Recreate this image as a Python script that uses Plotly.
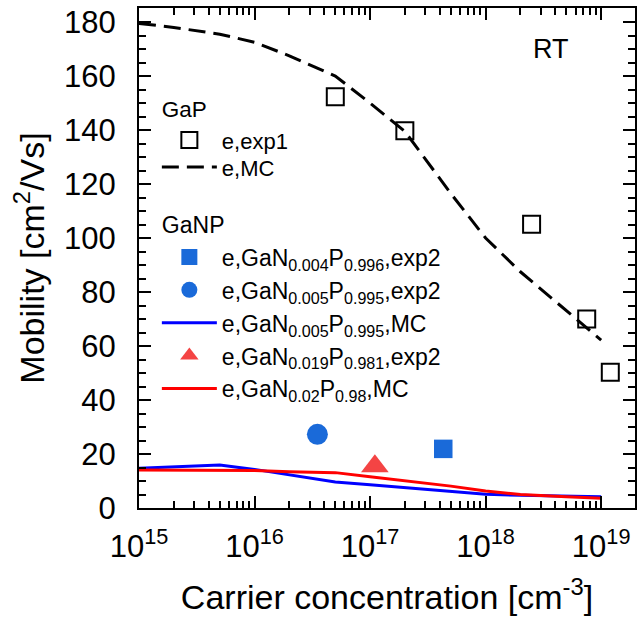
import plotly.graph_objects as go

# ---- data ----
gap_exp_x = [5.0e16, 2.0e17, 2.5e18, 7.5e18, 1.2e19]
gap_exp_y = [152.3, 139.7, 105.1, 70.0, 50.3]

mc_x = [1e15, 2e15, 5e15, 1e16, 2e16, 5e16, 1e17, 2e17, 5e17, 1e18, 2e18, 5e18, 1e19]
gap_mc_y = [179.5, 178.0, 175.5, 172.5, 167.5, 160.0, 150.0, 139.5, 116.5, 100.0, 87.5, 73.3, 62.2]
ganp005_mc_y = [14.7, 15.2, 15.9, 14.3, 12.2, 9.6, 8.6, 7.6, 6.2, 5.1, 4.7, 4.4, 4.2]
ganp02_mc_y = [14.1, 14.1, 14.0, 13.9, 13.4, 13.1, 11.6, 10.1, 8.1, 6.3, 5.0, 4.2, 3.6]

ganp004_exp_x = [4.3e17]
ganp004_exp_y = [21.9]
ganp005_exp_x = [3.5e16]
ganp005_exp_y = [27.3]
ganp019_exp_x = [1.1e17]
ganp019_exp_y = [15.5]

xtick_vals = [1e15, 1e16, 1e17, 1e18, 1e19]
xtick_text = ["10<sup>15</sup>", "10<sup>16</sup>", "10<sup>17</sup>", "10<sup>18</sup>", "10<sup>19</sup>"]
xminor_vals = [float(k) * 10.0 ** d for d in range(15, 20) for k in range(2, 10)]

FONT = "Liberation Sans, Arial, sans-serif"
BLUE_M = "#1a6ad9"
RED_M = "#f44444"

fig = go.Figure()
fig.add_trace(go.Scatter(x=gap_exp_x, y=gap_exp_y, mode="markers", name="e,exp1",
                         legend="legend", legendgroup="GaP", legendgrouptitle=dict(text="GaP"),
                         marker=dict(symbol="square-open", size=17, color="black",
                                     line=dict(width=2, color="black"))))
fig.add_trace(go.Scatter(x=mc_x, y=gap_mc_y, mode="lines", name="e,MC",
                         legend="legend3", legendgroup="GaP",
                         line=dict(color="black", width=3, dash="17px,8px")))
fig.add_trace(go.Scatter(x=ganp004_exp_x, y=ganp004_exp_y, mode="markers",
                         name="e,GaN<sub>0.004</sub>P<sub>0.996</sub>,exp2",
                         legend="legend2", legendgroup="GaNP", legendgrouptitle=dict(text="GaNP"),
                         marker=dict(symbol="square", size=18.5, color=BLUE_M)))
fig.add_trace(go.Scatter(x=ganp005_exp_x, y=ganp005_exp_y, mode="markers",
                         name="e,GaN<sub>0.005</sub>P<sub>0.995</sub>,exp2",
                         legend="legend2", legendgroup="GaNP",
                         marker=dict(symbol="circle", size=21, color=BLUE_M)))
fig.add_trace(go.Scatter(x=mc_x, y=ganp005_mc_y, mode="lines",
                         name="e,GaN<sub>0.005</sub>P<sub>0.995</sub>,MC",
                         legend="legend2", legendgroup="GaNP", line=dict(color="#0000ff", width=3)))
fig.add_trace(go.Scatter(x=ganp019_exp_x, y=ganp019_exp_y, mode="markers",
                         name="e,GaN<sub>0.019</sub>P<sub>0.981</sub>,exp2",
                         legend="legend2", legendgroup="GaNP",
                         marker=dict(symbol="triangle-up", size=24, color=RED_M)))
fig.add_trace(go.Scatter(x=mc_x, y=ganp02_mc_y, mode="lines",
                         name="e,GaN<sub>0.02</sub>P<sub>0.98</sub>,MC",
                         legend="legend2", legendgroup="GaNP", line=dict(color="#ff0000", width=3)))

fig.add_annotation(text="RT", x=0.831, y=0.917, xref="paper", yref="paper",
                   xanchor="center", yanchor="middle",
                   showarrow=False, font=dict(size=27, color="black", family=FONT))

legend_common = dict(xanchor="left", yanchor="top", bgcolor="rgba(0,0,0,0)", borderwidth=0,
                     itemwidth=55, traceorder="grouped")

fig.update_layout(
    width=637, height=620,
    margin=dict(l=139, r=0, t=8, b=112),
    paper_bgcolor="white", plot_bgcolor="white",
    font=dict(family=FONT, color="black"),
    showlegend=True,
    legend=dict(x=0.036, y=0.8422,
                font=dict(size=22, family=FONT, color="black"),
                grouptitlefont=dict(size=22.5, family=FONT, color="black"),
                **legend_common),
    legend3=dict(x=0.036, y=0.7236,
                 font=dict(size=22, family=FONT, color="black"),
                 **legend_common),
    legend2=dict(x=0.036, y=0.6109,
                 font=dict(size=23, family=FONT, color="black"),
                 grouptitlefont=dict(size=23, family=FONT, color="black"),
                 **legend_common),
    xaxis=dict(type="log", range=[15, 19.293],
               tickmode="array", tickvals=xtick_vals, ticktext=xtick_text,
               ticks="inside", ticklen=12, tickwidth=2, tickcolor="black",
               showline=True, linewidth=2, linecolor="black", mirror="allticks",
               showgrid=False, zeroline=False,
               tickfont=dict(size=31, family=FONT, color="black"),
               ticklabelstandoff=10,
               minor=dict(tickmode="array", tickvals=xminor_vals, ticks="inside",
                          ticklen=7, tickwidth=2, tickcolor="black", showgrid=False),
               title=dict(text="Carrier concentration [cm<sup>-3</sup>]",
                          font=dict(size=34, family=FONT, color="black"), standoff=22)),
    yaxis=dict(range=[0, 185.2], tickmode="linear", tick0=0, dtick=20,
               ticks="inside", ticklen=12, tickwidth=2, tickcolor="black",
               showline=True, linewidth=2, linecolor="black", mirror="allticks",
               showgrid=False, zeroline=False,
               tickfont=dict(size=31, family=FONT, color="black"),
               ticklabelstandoff=15,
               minor=dict(dtick=5, ticks="inside", ticklen=7, tickwidth=2,
                          tickcolor="black", showgrid=False),
               title=dict(text="Mobility [cm<sup>2</sup>/Vs]",
                          font=dict(size=34, family=FONT, color="black"), standoff=9)),
)

fig.write_html("out.html")
